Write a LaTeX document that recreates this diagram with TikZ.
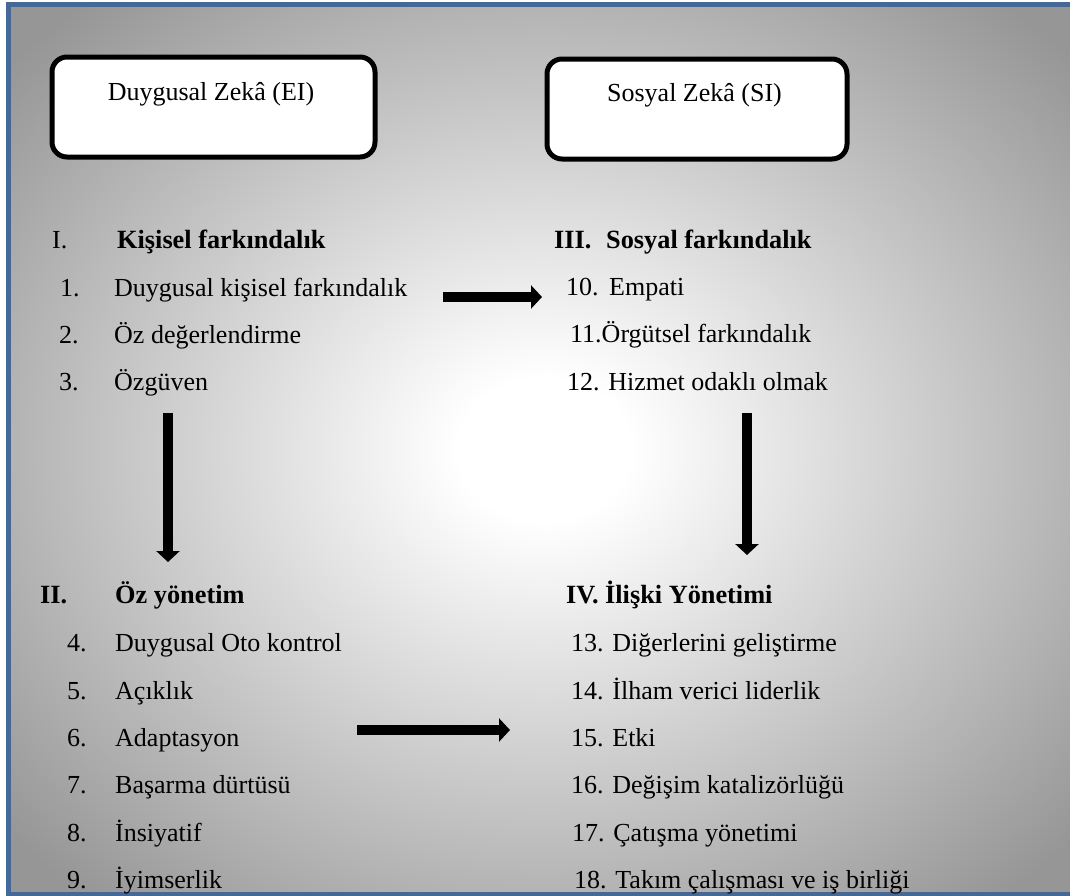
\documentclass[tikz,border=0pt]{standalone}
\usepackage{fontspec}
\setmainfont{Liberation Serif}
\usetikzlibrary{arrows.meta}
\definecolor{frameblue}{RGB}{70,104,150}
\definecolor{edgegray}{RGB}{150,150,150}
\pgfdeclareradialshading{softglow}{\pgfpoint{0bp}{0bp}}{%
  color(0bp)=(white); color(4bp)=(white); color(33bp)=(edgegray); color(50bp)=(edgegray)}
\tikzset{
  txt/.style={anchor=base west, inner sep=0pt, font=\fontsize{26}{31}\selectfont},
  head/.style={txt, font=\fontsize{26.3}{31}\selectfont\bfseries},
  titlebox/.style={draw=black, line width=5pt, rounded corners=15pt, fill=white,
    anchor=north west, inner sep=0pt},
  boxtitle/.style={anchor=base, inner sep=0pt, font=\fontsize{26}{31}\selectfont},
  bigarrow/.style={line width=10pt, -{Triangle[length=11pt,width=23pt]}},
}
\begin{document}
\begin{tikzpicture}[x=1pt,y=-1pt]
\useasboundingbox (0,0) rectangle (1070,895);
% background panel with its frame
\shade[shading=softglow] (8,4.5) rectangle (1080,894.5);
\draw[frameblue, line width=5pt] (8,4.5) rectangle (1080,894.5);

% the two headline boxes
\node[titlebox, minimum width=323pt, minimum height=100pt] (ei) at (49.5,54.5) {};
\node[boxtitle] (eit) at (211,100) {Duygusal Zekâ (EI)};
\node[titlebox, minimum width=300pt, minimum height=100pt] (si) at (544.5,56.5) {};
\node[boxtitle] (sit) at (694.5,101) {Sosyal Zekâ (SI)};

% I. personal awareness
\node[txt] (n1h) at (52,248) {I.};
\node[head] (h1) at (117,248) {Kişisel farkındalık};
\node[txt] (n1) at (60,296) {1.};
\node[txt] (t1) at (114,296) {Duygusal kişisel farkındalık};
\node[txt] (n2) at (59,343) {2.};
\node[txt] (t2) at (114,343) {Öz değerlendirme};
\node[txt] (n3) at (59,390) {3.};
\node[txt] (t3) at (114,390) {Özgüven};

% III. social awareness
\node[head] (n3h) at (554,248) {III.};
\node[head] (h3) at (606,248) {Sosyal farkındalık};
\node[txt] (n10) at (566,295) {10.};
\node[txt] (t10) at (609,295) {Empati};
\node[txt] (t11) at (570,342) {11.Örgütsel farkındalık};
\node[txt] (t12) at (567,390) {12. Hizmet odaklı olmak};

% II. self management
\node[head] (n2h) at (40,603) {II.};
\node[head] (h2) at (115,603) {Öz yönetim};
\node[txt] (n4) at (67,651) {4.};
\node[txt] (t4) at (115,651) {Duygusal Oto kontrol};
\node[txt] (n5) at (67,699) {5.};
\node[txt] (t5) at (115,699) {Açıklık};
\node[txt] (n6) at (67,746) {6.};
\node[txt] (t6) at (115,746) {Adaptasyon};
\node[txt] (n7) at (67,793) {7.};
\node[txt] (t7) at (115,793) {Başarma dürtüsü};
\node[txt] (n8) at (67,841) {8.};
\node[txt] (t8) at (115,841) {İnsiyatif};
\node[txt] (n9) at (67,888) {9.};
\node[txt] (t9) at (115,888) {İyimserlik};

% IV. relationship management
\node[head] (h4) at (566,603) {IV. İlişki Yönetimi};
\node[txt] (t13) at (571,651) {13. Diğerlerini geliştirme};
\node[txt] (t14) at (571,699) {14. İlham verici liderlik};
\node[txt] (t15) at (571,746) {15. Etki};
\node[txt] (t16) at (571,793) {16. Değişim katalizörlüğü};
\node[txt] (t17) at (572,841) {17. Çatışma yönetimi};
\node[txt] (t18) at (574,888) {18. Takım çalışması ve iş birliği};

% arrow ends
\coordinate (aS) at (443,297);  \coordinate (aE) at (542,297);
\coordinate (bS) at (168,413);  \coordinate (bE) at (168,562);
\coordinate (cS) at (747,413);  \coordinate (cE) at (747,555);
\coordinate (dS) at (357,730);  \coordinate (dE) at (510,730);
\draw[bigarrow] (aS) -- (aE);
\draw[bigarrow] (bS) -- (bE);
\draw[bigarrow] (cS) -- (cE);
\draw[bigarrow] (dS) -- (dE);
\end{tikzpicture}
\end{document}
